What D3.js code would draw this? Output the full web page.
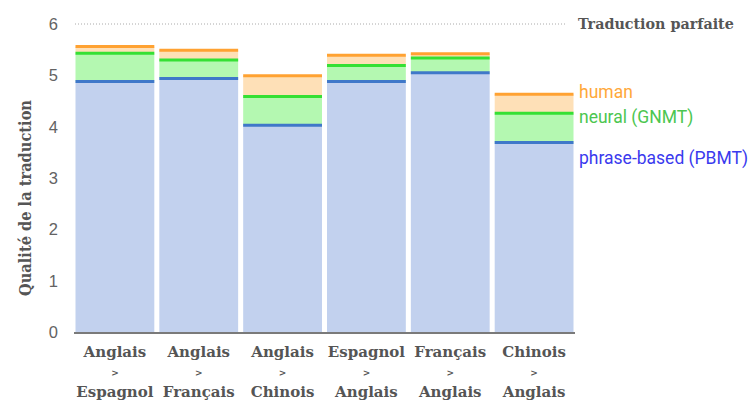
<!DOCTYPE html>
<html><head><meta charset="utf-8">
<script src="https://cdn.jsdelivr.net/npm/d3@7"></script>
<style>
html,body{margin:0;padding:0;background:#fff;}
svg{display:block;}
</style></head>
<body>
<svg id="c" width="754" height="401"></svg>
<script>
const sources = ["Anglais","Anglais","Anglais","Espagnol","Français","Chinois"];
const targets = ["Espagnol","Français","Chinois","Anglais","Anglais","Anglais"];
const pbmt  = [4.88, 4.94, 4.03, 4.88, 5.05, 3.69];
const gnmt  = [5.43, 5.30, 4.59, 5.19, 5.34, 4.26];
const human = [5.56, 5.49, 4.99, 5.39, 5.42, 4.63];
const yTicks = [0,1,2,3,4,5,6];
const perfect = 6;
const seriesNames = ["human","neural (GNMT)","phrase-based (PBMT)"];

const svg = d3.select("#c");
const cats = sources.map((s,i)=>i);
const x = d3.scaleBand().domain(cats).range([75.5,573.5]).paddingInner(0.06).paddingOuter(0);
const y = d3.scaleLinear().domain([0,6]).range([332,24]);

const serif = "'DejaVu Serif', serif";
const sans = "'Liberation Sans', Arial, sans-serif";

const fills = {pbmt:"#c2d1ee", gnmt:"#b4f8b1", human:"#fee0b7"};
const lines = {pbmt:"#3f78c9", gnmt:"#35e034", human:"#ffa232"};

// perfect line
svg.append("line").attr("x1",75).attr("x2",567).attr("y1",y(perfect)).attr("y2",y(perfect))
  .attr("stroke","#aaa").attr("stroke-width",1).attr("stroke-dasharray","1,2");
svg.append("text").attr("x",578).attr("y",y(perfect)+5).text("Traduction parfaite")
  .attr("font-family",serif).attr("font-weight","bold").attr("font-size",14.3).attr("fill","#555");

const g = svg.append("g");
cats.forEach(i=>{
  const bx = x(i), bw = x.bandwidth();
  g.append("rect").attr("x",bx).attr("width",bw).attr("y",y(human[i])).attr("height",y(gnmt[i])-y(human[i])).attr("fill",fills.human);
  g.append("rect").attr("x",bx).attr("width",bw).attr("y",y(gnmt[i])).attr("height",y(pbmt[i])-y(gnmt[i])).attr("fill",fills.gnmt);
  g.append("rect").attr("x",bx).attr("width",bw).attr("y",y(pbmt[i])).attr("height",y(0)-y(pbmt[i])).attr("fill",fills.pbmt);
  [["human",human],["gnmt",gnmt],["pbmt",pbmt]].forEach(([k,arr])=>{
    g.append("line").attr("x1",bx).attr("x2",bx+bw).attr("y1",y(arr[i])).attr("y2",y(arr[i]))
      .attr("stroke",lines[k]).attr("stroke-width",3);
  });
});

// baseline
svg.append("line").attr("x1",74).attr("x2",575).attr("y1",y(0)+1).attr("y2",y(0)+1)
  .attr("stroke","#7a7a7a").attr("stroke-width",2);

// y ticks
svg.append("g").selectAll("text").data(yTicks).join("text")
  .attr("x",58).attr("y",d=>y(d)).attr("dy","0.36em").attr("text-anchor","end")
  .attr("font-family",sans).attr("font-size",16.5).attr("fill","#636363").text(d=>d);

// y title
svg.append("text").attr("transform","rotate(-90)").attr("x",-198).attr("y",31)
  .attr("text-anchor","middle").attr("font-family",serif).attr("font-weight","bold")
  .attr("font-size",17).attr("textLength",196).attr("lengthAdjust","spacingAndGlyphs")
  .attr("fill","#555").text("Qualité de la traduction");

// x labels
const xl = svg.append("g").selectAll("text").data(cats).join("text")
  .attr("text-anchor","middle").attr("font-family",serif).attr("font-weight","bold").attr("fill","#555");
xl.append("tspan").attr("x",i=>x(i)+x.bandwidth()/2).attr("y",357).attr("font-size",15).text(i=>sources[i]);
xl.append("tspan").attr("x",i=>x(i)+x.bandwidth()/2).attr("y",376).attr("font-size",9).text(">");
xl.append("tspan").attr("x",i=>x(i)+x.bandwidth()/2).attr("y",397).attr("font-size",15).text(i=>targets[i]);

// legend
const legColors = ["#ffa83a","#4cc650","#3a3aee"];
const legY = [98, 123, 164];
svg.append("g").selectAll("text").data(seriesNames).join("text")
  .attr("x",579).attr("y",(d,i)=>legY[i]).attr("font-family","Roboto, sans-serif")
  .attr("font-size",17.5).attr("fill",(d,i)=>legColors[i]).text(d=>d);
</script>
</body></html>
